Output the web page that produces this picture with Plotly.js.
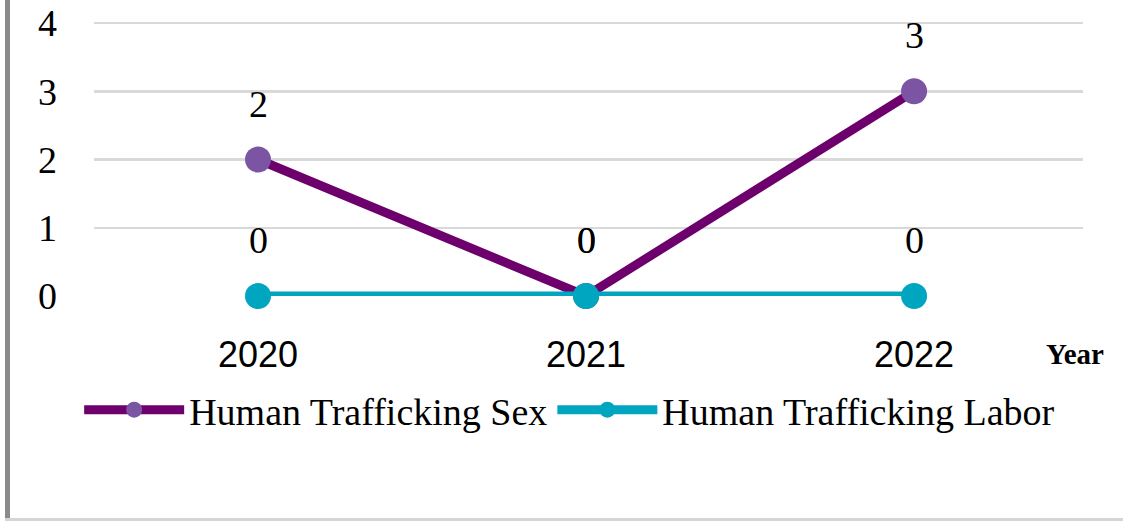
<!DOCTYPE html>
<html>
<head>
<meta charset="utf-8">
<script src="https://cdn.plot.ly/plotly-3.0.1.min.js"></script>
<style>
  html, body { margin: 0; padding: 0; background: #fff; }
  #wrap { position: relative; width: 1123px; height: 521px; overflow: hidden; }
  #chart { position: absolute; left: 0; top: 0; width: 1123px; height: 521px; }
  #bl { position: absolute; left: 5px; top: 0; width: 5px; height: 521px; background: #8a8a8a; }
  #bb { position: absolute; left: 5px; top: 518px; width: 1118px; height: 3px; background: #d4d4d4; }
</style>
</head>
<body>
<div id="wrap">
  <div id="chart"></div>
  <div id="bl"></div>
  <div id="bb"></div>
</div>
<script>
const years = ['2020', '2021', '2022'];
const sexValues = [2, 0, 3];
const laborValues = [0, 0, 0];
const seriesNames = ['Human Trafficking Sex', 'Human Trafficking Labor'];
const yTicks = [0, 1, 2, 3, 4];
const xAxisLabel = 'Year';

const serif = 'Liberation Serif, Times New Roman, serif';

const traces = [
  {
    x: years, y: sexValues, name: seriesNames[0], type: 'scatter', mode: 'lines+markers',
    line: { color: '#6e006e', width: 9 },
    marker: { color: '#7b55a3', size: 26 },
    cliponaxis: false
  },
  {
    x: years, y: laborValues, name: seriesNames[1], type: 'scatter', mode: 'lines+markers',
    line: { color: '#00a5c0', width: 9 },
    marker: { color: '#00a5c0', size: 26 },
    cliponaxis: false
  }
];

const annotations = [];
[sexValues, laborValues].forEach(vals => {
  vals.forEach((v, i) => {
    annotations.push({
      x: i, y: v, xref: 'x', yref: 'y', text: String(v), showarrow: false,
      yshift: 56, font: { family: serif, size: 38, color: '#000' }
    });
  });
});
annotations.push({
  xref: 'paper', yref: 'paper', x: 0.992, y: -0.2071, xanchor: 'center', yanchor: 'middle',
  text: '<b>' + xAxisLabel + '</b>',
  showarrow: false, font: { family: serif, size: 29, color: '#000' }
});

const layout = {
  width: 1123, height: 521,
  margin: { l: 94, r: 40, t: 16, b: 225 },
  paper_bgcolor: '#fff', plot_bgcolor: '#fff',
  showlegend: true,
  legend: {
    orientation: 'h', x: -0.015, xanchor: 'left', y: -0.4071, yanchor: 'middle',
    font: { family: serif, size: 38, color: '#000' },
    itemwidth: 100, bgcolor: 'rgba(0,0,0,0)', tracegroupgap: 0
  },
  xaxis: {
    type: 'category', range: [-0.5, 2.515], showgrid: false, showline: false, zeroline: false,
    ticks: '', ticklabelstandoff: 34,
    tickfont: { family: 'Liberation Sans, Arial, sans-serif', size: 36, color: '#000' }
  },
  yaxis: {
    range: [0, 4.1026], tickvals: yTicks, showgrid: true, gridcolor: '#d9d9d9', gridwidth: 2.5,
    zeroline: false, showline: false, ticks: '', ticklabelstandoff: 36,
    tickfont: { family: serif, size: 38, color: '#000' }
  },
  annotations: annotations
};

Plotly.newPlot('chart', traces, layout, { displayModeBar: false, staticPlot: true });
</script>
</body>
</html>
